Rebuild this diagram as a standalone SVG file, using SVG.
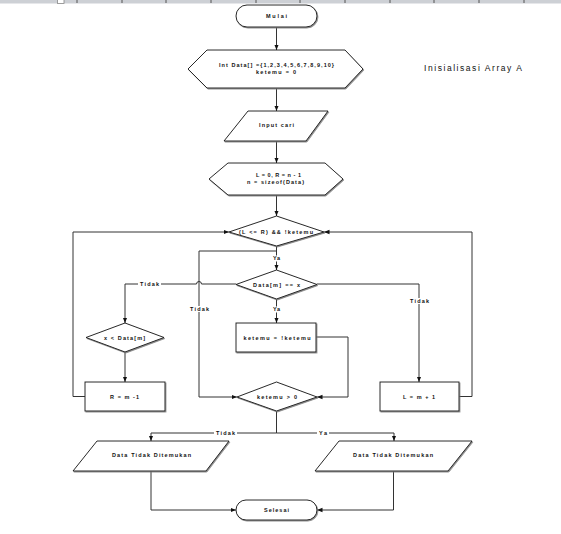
<svg xmlns="http://www.w3.org/2000/svg" width="561" height="534" viewBox="0 0 561 534">
<style>
.sh{fill:#fff;stroke:#111;stroke-width:0.9;filter:url(#sd)}
.ln{fill:none;stroke:#333;stroke-width:1}
.arr{marker-end:url(#ah)}
.t{font-family:"Liberation Sans",Arial,sans-serif;font-size:5.5px;font-weight:bold;fill:#111;text-anchor:middle}
.lb{font-family:"Liberation Sans",Arial,sans-serif;font-size:5.5px;font-weight:bold;fill:#111;text-anchor:middle}
.bg{fill:#fff}
.tick{stroke:#555;stroke-width:1}
</style>
<defs>
<filter id="sd" x="-10%" y="-10%" width="130%" height="140%">
<feDropShadow dx="0.8" dy="1" stdDeviation="0.2" flood-color="#777" flood-opacity="0.9"/>
</filter>
<marker id="ah" markerUnits="userSpaceOnUse" markerWidth="6" markerHeight="6" viewBox="0 0 6 6" refX="5.5" refY="3" orient="auto">
<path d="M0,0.8 L5.5,3 L0,5.2 Z" fill="#111"/>
</marker>
</defs>
<rect width="561" height="534" fill="#fff"/>
<g id="ruler">
<rect x="0" y="0" width="561" height="3.5" fill="#cdd0d5"/>
<rect x="57.5" y="-1" width="6.5" height="4.5" fill="#fff" stroke="#888" stroke-width="0.8"/>
<path class="tick" d="M77,0V3M122,0V3M166,0V3M211,0V3M256,0V3M300,0V3M345,0V3M390,0V3M434,0V3M479,0V3M524,0V3"/>
</g>
<g id="connectors">
<path class="ln arr" d="M276.5,27V50"/>
<path class="ln arr" d="M276.5,88V111"/>
<path class="ln arr" d="M276.5,141V163"/>
<path class="ln arr" d="M276.5,195V216"/>
<path class="ln arr" d="M276.5,246V270"/>
<path class="ln arr" d="M276.5,251H199V397H237"/>
<path class="ln arr" d="M236,284H201.5A2.5,2.5 0 0 0 196.5,284H125V323"/>
<path class="ln arr" d="M317,284H419V382"/>
<path class="ln arr" d="M276.5,299V323"/>
<path class="ln arr" d="M125,352V382"/>
<path class="ln arr" d="M85,396.5H73V232H229"/>
<path class="ln arr" d="M459,396.5H472V232H324"/>
<path class="ln arr" d="M316,337H348V397H317"/>
<path class="ln arr" d="M276.5,411V433H151V441"/>
<path class="ln arr" d="M276.5,433H394V441"/>
<path class="ln arr" d="M151,471V510H236"/>
<path class="ln arr" d="M393.5,471V510H317"/>
<rect class="bg" x="270" y="255.5" width="13" height="6"/>
<text class="lb" x="276.5" y="260" textLength="7">Ya</text>
<rect class="bg" x="138" y="281" width="23" height="6"/>
<text class="lb" x="149.5" y="286" textLength="19">Tidak</text>
<rect class="bg" x="188" y="306" width="23" height="6"/>
<text class="lb" x="199.5" y="311" textLength="19">Tidak</text>
<rect class="bg" x="408" y="298" width="23" height="6"/>
<text class="lb" x="419.5" y="303" textLength="19">Tidak</text>
<rect class="bg" x="270" y="306.5" width="13" height="6"/>
<text class="lb" x="276.5" y="311" textLength="7">Ya</text>
<rect class="bg" x="214" y="430" width="23" height="6"/>
<text class="lb" x="225.5" y="435" textLength="19">Tidak</text>
<rect class="bg" x="317" y="430" width="12" height="6"/>
<text class="lb" x="323" y="435" textLength="8">Ya</text>
</g>
<g id="mulai">
<rect class="sh" x="236" y="5" width="81" height="22" rx="11"/>
<text class="t" x="276.5" y="18" textLength="21">Mulai</text>
</g>
<g id="init">
<polygon class="sh" points="188,69 207,50 345,50 363,69 345,88 207,88"/>
<text class="t" x="276.5" y="66.5" textLength="115">Int Data[] ={1,2,3,4,5,6,7,8,9,10}</text>
<text class="t" x="276" y="73.5" textLength="40">ketemu = 0</text>
</g>
<g id="note">
<text x="473" y="71" font-family="'Liberation Sans',Arial,sans-serif" font-size="8.5" fill="#111" text-anchor="middle" textLength="98">Inisialisasi Array A</text>
</g>
<g id="input">
<polygon class="sh" points="248,111 328,111 306,141 224,141"/>
<text class="t" x="276.5" y="127" textLength="35">Input cari</text>
</g>
<g id="setlr">
<polygon class="sh" points="209,179 228,163 325,163 343,179 325,195 228,195"/>
<text class="t" x="278.5" y="177" textLength="45">L = 0, R = n - 1</text>
<text class="t" x="275.5" y="184" textLength="57">n = sizeof(Data)</text>
</g>
<g id="loop">
<polygon class="sh" points="229,232 276.5,216 324,232 276.5,246"/>
<text class="t" x="276" y="234" textLength="74">(L &lt;= R) &amp;&amp; !ketemu</text>
</g>
<g id="cek">
<polygon class="sh" points="236,284.5 276.5,270 317,284.5 276.5,299"/>
<text class="t" x="276.5" y="286.5" textLength="47">Data[m] == x</text>
</g>
<g id="kurang">
<polygon class="sh" points="86,337.5 125,323 164,337.5 125,352"/>
<text class="t" x="124.5" y="339.5" textLength="41">x &lt; Data[m]</text>
</g>
<g id="rbox">
<rect class="sh" x="85" y="382" width="80" height="29"/>
<text class="t" x="124.5" y="398.5" textLength="29">R = m -1</text>
</g>
<g id="ketemubox">
<rect class="sh" x="236" y="323" width="80" height="29"/>
<text class="t" x="277" y="339.5" textLength="67">ketemu = !ketemu</text>
</g>
<g id="lbox">
<rect class="sh" x="380" y="382" width="79" height="29"/>
<text class="t" x="419" y="398.5" textLength="32">L = m + 1</text>
</g>
<g id="cekketemu">
<polygon class="sh" points="237,397 276.5,382 317,397 276.5,411"/>
<text class="t" x="277" y="399" textLength="40">ketemu &gt; 0</text>
</g>
<g id="outkiri">
<polygon class="sh" points="97,441 229,441 206,471 73,471"/>
<text class="t" x="151.5" y="457" textLength="79">Data Tidak Ditemukan</text>
</g>
<g id="outkanan">
<polygon class="sh" points="339,441 472,441 448,471 315,471"/>
<text class="t" x="393" y="457" textLength="80">Data Tidak Ditemukan</text>
</g>
<g id="selesai">
<rect class="sh" x="236" y="500" width="81" height="20" rx="10"/>
<text class="t" x="276.5" y="512" textLength="25">Selesai</text>
</g>
</svg>
